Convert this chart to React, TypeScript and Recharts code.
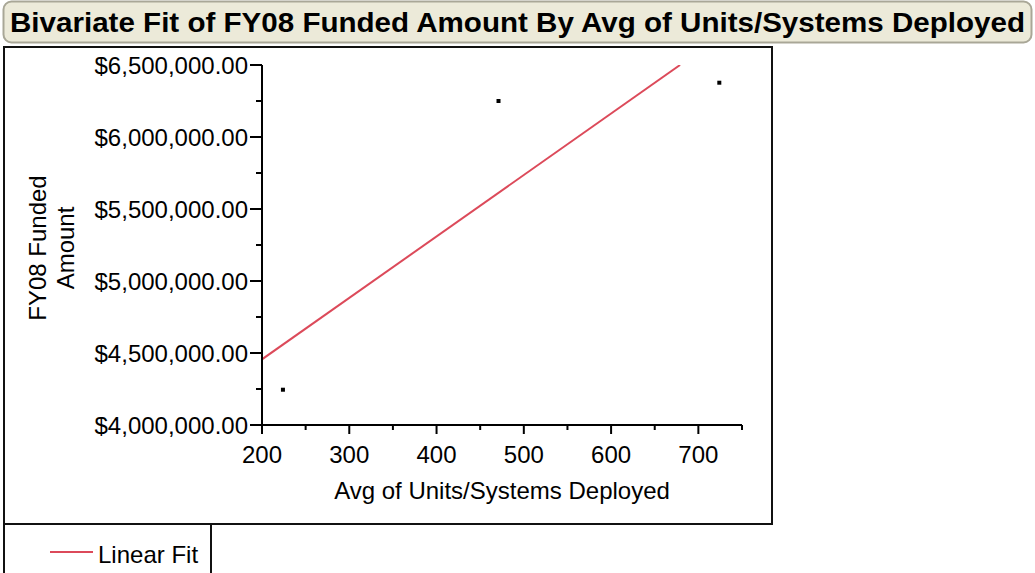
import React from "react";
import { ComposedChart, XAxis, YAxis, Line, Scatter } from "recharts";

const TITLE = "Bivariate Fit of FY08 Funded Amount By Avg of Units/Systems Deployed";
const X_LABEL = "Avg of Units/Systems Deployed";
const Y_LABEL_LINES = ["FY08 Funded", "Amount"];
const LEGEND_LABEL = "Linear Fit";

const unitsDeployed = [224, 471, 724];
const fundedAmount = [4245000, 6250000, 6377000];

const fitX = [200, 679];
const fitY = [4456000, 6500000];

const X_TICKS = [200, 250, 300, 350, 400, 450, 500, 550, 600, 650, 700, 750];
const X_MAJOR = [200, 300, 400, 500, 600, 700];
const Y_TICKS = [4000000, 4250000, 4500000, 4750000, 5000000, 5250000, 5500000, 5750000, 6000000, 6250000, 6500000];
const Y_MAJOR = [4000000, 4500000, 5000000, 5500000, 6000000, 6500000];

const points = unitsDeployed.map((x, i) => ({ x, y: fundedAmount[i] }));
const fitLine = fitX.map((x, i) => ({ x, y: fitY[i] }));

const FONT = "'Liberation Sans', Arial, Helvetica, sans-serif";
const FIT_COLOR = "#DC4A5A";
const FS = 24;

const fmtMoney = (v: number) =>
  "$" + v.toLocaleString("en-US", { minimumFractionDigits: 2, maximumFractionDigits: 2 });

const YTick = (props: any) => {
  const { x, y, payload } = props;
  const major = Y_MAJOR.includes(payload.value);
  return (
    <g>
      <line x1={x} x2={x - (major ? 12 : 6)} y1={y} y2={y} stroke="#000" strokeWidth={2} />
      {major && (
        <text x={x - 14} y={y} dy="0.36em" textAnchor="end" fontFamily={FONT} fontSize={FS} fill="#000">
          {fmtMoney(payload.value)}
        </text>
      )}
    </g>
  );
};

const XTick = (props: any) => {
  const { x, y, payload } = props;
  const major = X_MAJOR.includes(payload.value);
  return (
    <g>
      <line x1={x} x2={x} y1={y} y2={y + (major ? 9 : 5)} stroke="#000" strokeWidth={2} />
      {major && (
        <text x={x} y={y + 38} textAnchor="middle" fontFamily={FONT} fontSize={FS} fill="#000">
          {payload.value}
        </text>
      )}
    </g>
  );
};

const XLabel = (props: any) => {
  const vb = props.viewBox || {};
  return (
    <text x={vb.x + vb.width / 2} y={vb.y + 74} textAnchor="middle" fontFamily={FONT} fontSize={FS} fill="#000">
      {X_LABEL}
    </text>
  );
};

const YLabel = (props: any) => {
  const vb = props.viewBox || {};
  const cy = vb.y + vb.height / 2 + 3;
  const xs = [37, 65];
  return (
    <g>
      {Y_LABEL_LINES.map((t, i) => (
        <text
          key={t}
          x={xs[i]}
          y={cy}
          dy="0.36em"
          textAnchor="middle"
          transform={`rotate(-90, ${xs[i]}, ${cy})`}
          fontFamily={FONT}
          fontSize={FS}
          fill="#000"
        >
          {t}
        </text>
      ))}
    </g>
  );
};

const Square = (props: any) => {
  const { cx, cy } = props;
  return <rect x={cx - 2} y={cy - 2} width={4} height={4} fill="#000" />;
};

export default function App() {
  return (
    <div style={{ position: "absolute", left: 0, top: 0, width: 1035, height: 573, background: "#fff", overflow: "hidden" }}>
      <svg width={1035} height={573} style={{ position: "absolute", left: 0, top: 0 }}>
        <rect x={3.5} y={1.5} width={1028} height={41} rx={8} ry={8} fill="#ECEAD9" stroke="#A9A797" strokeWidth={2} />
        <text
          x={10}
          y={32}
          fontFamily={FONT}
          fontWeight="bold"
          fontSize={28}
          fill="#000"
          textLength={1015}
          lengthAdjust="spacingAndGlyphs"
        >
          {TITLE}
        </text>
        <rect x={4} y={47} width={768} height={477} fill="none" stroke="#111" strokeWidth={2} />
        <line x1={4} x2={4} y1={524} y2={573} stroke="#111" strokeWidth={2} />
        <line x1={211} x2={211} y1={524} y2={573} stroke="#111" strokeWidth={2} />
        <line x1={50} x2={93} y1={552} y2={552} stroke={FIT_COLOR} strokeWidth={2} />
        <text x={98} y={563} fontFamily={FONT} fontSize={FS} fill="#000">
          {LEGEND_LABEL}
        </text>
      </svg>
      <div style={{ position: "absolute", left: 0, top: 0 }}>
        <ComposedChart width={1035} height={573} margin={{ top: 65, right: 293, bottom: 68, left: 62 }}>
          <XAxis
            xAxisId={0}
            type="number"
            dataKey="x"
            domain={[200, 750]}
            ticks={X_TICKS}
            interval={0}
            height={80}
            tickSize={0}
            tickMargin={0}
            tickLine={false}
            axisLine={{ stroke: "#000", strokeWidth: 2 }}
            tick={<XTick />}
            label={<XLabel />}
            allowDataOverflow
          />
          <XAxis
            xAxisId="top"
            orientation="top"
            type="number"
            domain={[200, 750]}
            height={0}
            tick={false}
            tickLine={false}
            axisLine={{ stroke: "#000", strokeWidth: 2 }}
          />
          <YAxis
            yAxisId={0}
            type="number"
            domain={[4000000, 6500000]}
            ticks={Y_TICKS}
            interval={0}
            width={200}
            tickSize={0}
            tickMargin={0}
            tickLine={false}
            axisLine={{ stroke: "#000", strokeWidth: 2 }}
            tick={<YTick />}
            label={<YLabel />}
            allowDataOverflow
          />
          <YAxis
            yAxisId="right"
            orientation="right"
            type="number"
            domain={[4000000, 6500000]}
            width={0}
            tick={false}
            tickLine={false}
            axisLine={{ stroke: "#000", strokeWidth: 2 }}
          />
          <Line
            data={fitLine}
            dataKey="y"
            name={LEGEND_LABEL}
            stroke={FIT_COLOR}
            strokeWidth={2}
            dot={false}
            activeDot={false}
            isAnimationActive={false}
            type="linear"
          />
          <Scatter data={points} dataKey="y" fill="#000" shape={<Square />} isAnimationActive={false} />
        </ComposedChart>
      </div>
    </div>
  );
}
